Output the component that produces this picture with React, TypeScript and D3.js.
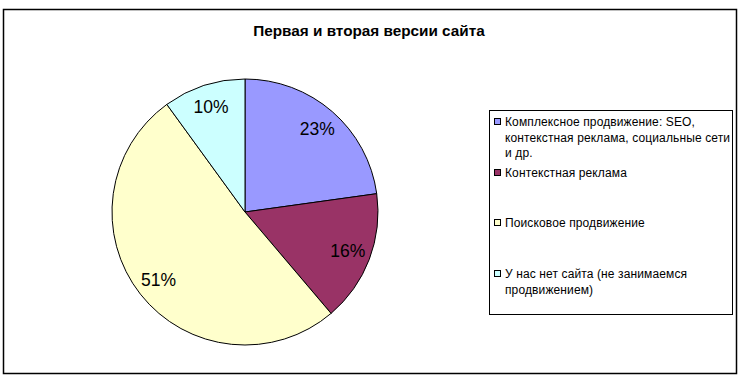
import React from "react";
import * as d3 from "d3";

const categories = [
  ["Комплексное продвижение: SEO,", "контекстная реклама, социальные сети", "и др."],
  ["Контекстная реклама"],
  ["Поисковое продвижение"],
  ["У нас нет сайта (не занимаемся", "продвижением)"],
];
const values = [22.8, 16.0, 51.2, 10.0];
const percentLabels = ["23%", "16%", "51%", "10%"];
const colors = ["#9999FF", "#993366", "#FFFFCC", "#CCFFFF"];
const title = "Первая и вторая версии сайта";

export default function App() {
  const W = 742, H = 379;
  const cx = 245, cy = 212, R = 133, labelR = 110;
  const pie = d3.pie<number>().sort(null).value((d) => d)(values);
  const arc = d3.arc<d3.PieArcDatum<number>>().innerRadius(0).outerRadius(R);
  const labelArc = d3.arc<d3.PieArcDatum<number>>().innerRadius(labelR).outerRadius(labelR);

  const legendX = 489, legendY = 110, legendW = 243, legendH = 204;
  const itemY = [122, 173, 223, 274];
  const lineH = 15.5;
  const font = "Arial, 'Liberation Sans', sans-serif";

  return (
    <svg width={W} height={H} style={{ position: "absolute", left: 0, top: 0 }} fontFamily={font}>
      <rect x={0} y={0} width={W} height={H} fill="#fff" />
      <rect x={3.5} y={9.5} width={733} height={364} fill="#fff" stroke="#000" strokeWidth={1.5} />
      <text x={369} y={36} textAnchor="middle" fontSize={15.3} fontWeight="bold" fill="#000">
        {title}
      </text>
      <g transform={`translate(${cx},${cy})`}>
        {pie.map((p, i) => (
          <path key={i} d={arc(p) || ""} fill={colors[i]} stroke="#000" strokeWidth={1} />
        ))}
        {pie.map((p, i) => {
          const [x, y] = labelArc.centroid(p);
          return (
            <text key={"l" + i} x={x} y={y} textAnchor="middle" dominantBaseline="central" fontSize={17.5} fill="#000">
              {percentLabels[i]}
            </text>
          );
        })}
      </g>
      <rect x={legendX + 0.5} y={legendY + 0.5} width={legendW} height={legendH} fill="#fff" stroke="#000" strokeWidth={1} />
      {categories.map((lines, i) => (
        <g key={"g" + i}>
          <rect x={494.5} y={itemY[i] - 3.5} width={6} height={6} fill={colors[i]} stroke="#000" strokeWidth={1} />
          {lines.map((ln, j) => (
            <text key={j} x={505} y={itemY[i] + j * lineH} dominantBaseline="central" fontSize={12} letterSpacing={0.12} fill="#000">
              {ln}
            </text>
          ))}
        </g>
      ))}
    </svg>
  );
}
